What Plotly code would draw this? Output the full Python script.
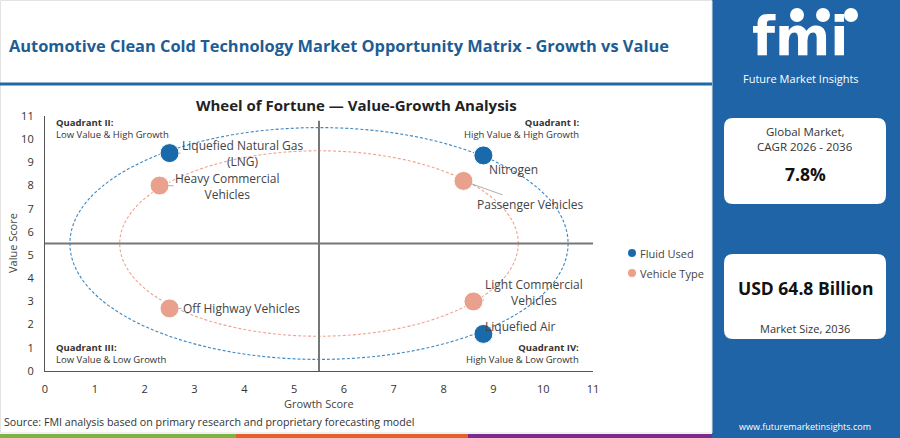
import plotly.graph_objects as go

# ---------------- data ----------------
fluid_names = ["Liquefied Natural Gas<br>(LNG)", "Nitrogen", "Liquefied Air"]
fluid_growth = [2.5, 8.8, 8.8]
fluid_value = [9.4, 9.3, 1.6]

vehicle_names = ["Heavy Commercial<br>Vehicles", "Passenger Vehicles",
                 "Light Commercial<br>Vehicles", "Off Highway Vehicles"]
vehicle_growth = [2.3, 8.4, 8.6, 2.5]
vehicle_value = [8.0, 8.2, 3.0, 2.7]

series_names = ["Fluid Used", "Vehicle Type"]
axis_ticks = list(range(0, 12))
quad_center = 5.5
ring_radius = {"Fluid Used": 5.0, "Vehicle Type": 4.0}

quadrant_titles = ["Quadrant I:", "Quadrant II:", "Quadrant III:", "Quadrant IV:"]
quadrant_subtitles = ["High Value & High Growth", "Low Value & High Growth",
                      "Low Value & Low Growth", "High Value & Low Growth"]

cagr_text = "7.8%"
market_size_text = "USD 64.8 Billion"

# ---------------- style ----------------
FONT = "Open Sans"
BLUE = "#1a6aab"
SALMON = "#e9a08c"
PANEL = "#1e64a6"
TITLE_BLUE = "#1d5d93"

W, H = 900, 438
L, R, T, B = 45, 307, 116, 67
PW, PH = W - L - R, H - T - B


def px(x):
    return (x - L) / PW


def py(y):
    return (H - B - y) / PH


fig = go.Figure()

# label offsets (pixels) for text relative to the point
fluid_offsets = [(73, 0), (30, 14), (37, -7)]
vehicle_offsets = [(68, 1), (67, 24), (61, -9), (72, 0)]

fig.add_trace(go.Scatter(x=fluid_growth, y=fluid_value, mode="markers", name=series_names[0],
                         marker=dict(size=19, color=BLUE, line=dict(color="white", width=1)),
                         showlegend=False, hoverinfo="skip"))
fig.add_trace(go.Scatter(x=vehicle_growth, y=vehicle_value, mode="markers", name=series_names[1],
                         marker=dict(size=19, color=SALMON, line=dict(color="white", width=1)),
                         showlegend=False, hoverinfo="skip"))

shapes = []
# rings
for key, col in ((series_names[0], "#3b87c4"), (series_names[1], "#eea58f")):
    r = ring_radius[key]
    shapes.append(dict(type="circle", xref="x", yref="y",
                       x0=quad_center - r, x1=quad_center + r,
                       y0=quad_center - r, y1=quad_center + r,
                       line=dict(color=col, width=1.1, dash="3px,2px"), layer="below"))
# quadrant dividers
shapes.append(dict(type="line", xref="x", yref="y", x0=quad_center, x1=quad_center,
                   y0=0, y1=10.8, line=dict(color="#777777", width=2), layer="below"))
shapes.append(dict(type="line", xref="x", yref="y", x0=0, x1=11,
                   y0=quad_center, y1=quad_center, line=dict(color="#777777", width=2), layer="below"))

# right blue panel
shapes.append(dict(type="rect", xref="paper", yref="paper", x0=px(712), x1=px(W),
                   y0=py(H), y1=py(0), fillcolor=PANEL, line=dict(width=0), layer="below"))


def rounded(x0, y0, x1, y1, r):
    a, b, c, d = px(x0), py(y0), px(x1), py(y1)
    rx, ry = r / PW, r / PH
    return (f"M {a+rx},{b} L {c-rx},{b} Q {c},{b} {c},{b-ry} L {c},{d+ry} "
            f"Q {c},{d} {c-rx},{d} L {a+rx},{d} Q {a},{d} {a},{d+ry} L {a},{b-ry} Q {a},{b} {a+rx},{b} Z")


for (y0, y1) in ((118, 204), (254, 339)):
    shapes.append(dict(type="path", xref="paper", yref="paper", path=rounded(724, y0, 886, y1, 9),
                       fillcolor="white", line=dict(width=0), layer="below"))

# logo icons
for cx in (797, 823, 851):
    shapes.append(dict(type="circle", xref="paper", yref="paper",
                       x0=px(cx - 7), x1=px(cx + 7), y0=py(22), y1=py(8),
                       fillcolor="white", line=dict(width=0), layer="below"))

# header separator and frame
shapes.append(dict(type="line", xref="paper", yref="paper", x0=px(0), x1=px(712),
                   y0=py(84), y1=py(84), line=dict(color="#1f6aa5", width=3)))
shapes.append(dict(type="rect", xref="paper", yref="paper", x0=px(0.5), x1=px(712),
                   y0=py(433), y1=py(0.5), line=dict(color="#e3e3e3", width=1), layer="below"))
# bottom colour bar
for (a, b, col) in ((0, 236, "#7cb342"), (236, 468, "#e2612c"), (468, 712, "#7b2d8e")):
    shapes.append(dict(type="rect", xref="paper", yref="paper", x0=px(a), x1=px(b),
                       y0=py(438), y1=py(434), fillcolor=col, line=dict(width=0)))

# manual legend markers
for i, col in enumerate((BLUE, SALMON)):
    yy = 253 + 20 * i
    shapes.append(dict(type="circle", xref="paper", yref="paper",
                       x0=px(628), x1=px(636), y0=py(yy + 4), y1=py(yy - 4),
                       fillcolor=col, line=dict(width=0)))

ann = []
for names, xs, ys, offs in ((fluid_names, fluid_growth, fluid_value, fluid_offsets),
                            (vehicle_names, vehicle_growth, vehicle_value, vehicle_offsets)):
    for n, x, y, (ax, ay) in zip(names, xs, ys, offs):
        ann.append(dict(x=x, y=y, xref="x", yref="y", text=n, showarrow=True,
                        ax=ax, ay=ay, arrowhead=0, arrowwidth=0.8, arrowcolor="#999999",
                        standoff=9, font=dict(family=FONT, size=12, color="#444444")))

quad_pos = [(581, 121, "right"), (54, 121, "left"), (54, 346, "left"), (581, 346, "right")]
for t, s, (x, y, al) in zip(quadrant_titles, quadrant_subtitles, quad_pos):
    ann.append(dict(x=px(x), y=py(y - 7), xref="paper", yref="paper", xanchor=al, yanchor="top",
                    align=al, showarrow=False,
                    text=f"<b>{t}</b><br>{s}",
                    font=dict(family=FONT, size=9.5, color="#333333")))


def txt(x, y, text, size, color="#333333", xanchor="center", bold=False, family=FONT):
    if bold:
        text = f"<b>{text}</b>"
    ann.append(dict(x=px(x), y=py(y), xref="paper", yref="paper", text=text,
                    showarrow=False, xanchor=xanchor, yanchor="middle",
                    font=dict(family=family, size=size, color=color)))


txt(7, 45, "Automotive Clean Cold Technology Market Opportunity Matrix - Growth vs Value",
    16.4, TITLE_BLUE, "left", True)
txt(356, 105, "Wheel of Fortune — Value-Growth Analysis", 15, "#222222", bold=True)
txt(2, 422, "Source: FMI analysis based on primary research and proprietary forecasting model",
    10.7, "#333333", "left")
txt(319, 403, "Growth Score", 11, "#444444")
ann.append(dict(x=px(12), y=py(243), xref="paper", yref="paper", text="Value Score",
                textangle=-90, showarrow=False, xanchor="center", yanchor="middle",
                font=dict(family=FONT, size=11, color="#444444")))

# legend texts
for i, nm in enumerate(series_names):
    txt(638, 253 + 20 * i, nm, 11, "#444444", "left")

# right panel texts
txt(800, 36, "fmi", 53, "white", bold=True, family="DejaVu Sans")
txt(801, 78, "Future Market Insights", 11, "white")
txt(805, 131, "Global Market,", 11.5)
txt(805, 146, "CAGR 2026 - 2036", 11.5)
txt(805, 174, cagr_text, 17.5, "#111111", bold=True)
txt(805, 288, market_size_text, 17.5, "#111111", bold=True)
txt(805, 328, "Market Size, 2036", 11)
txt(805, 426, "www.futuremarketinsights.com", 9, "white")

fig.update_layout(
    width=W, height=H, autosize=False,
    margin=dict(l=L, r=R, t=T, b=B),
    paper_bgcolor="white", plot_bgcolor="white",
    font=dict(family=FONT, size=11, color="#333333"),
    shapes=shapes, annotations=ann, showlegend=False,
    xaxis=dict(range=[0, 11], tickvals=axis_ticks, showgrid=False, zeroline=False,
               showline=True, linecolor="#555555", linewidth=1.2, ticks="",
               ticklabelstandoff=8, tickfont=dict(size=11, color="#333333")),
    yaxis=dict(range=[0, 11], tickvals=axis_ticks, showgrid=False, zeroline=False,
               showline=True, linecolor="#555555", linewidth=1.2, ticks="",
               ticklabelstandoff=8, tickfont=dict(size=11, color="#333333")),
)

fig.write_html("out.html", post_script="document.body.style.margin='0';",
               config={"displayModeBar": False})
